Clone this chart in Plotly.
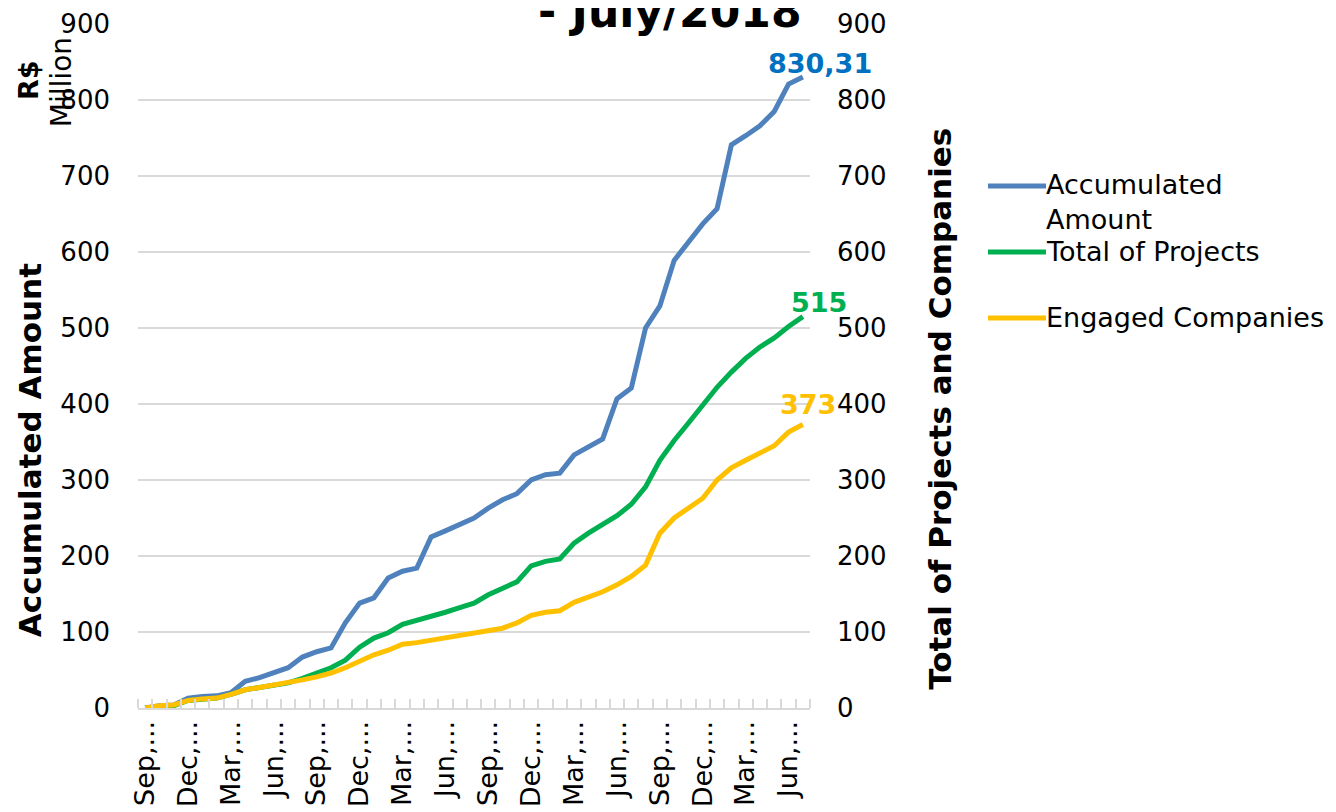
import pandas as pd
import plotly.graph_objects as go

# months Sep/2014 .. Jul/2018
months = pd.date_range("2014-09-01", periods=47, freq="MS")
month_names = [m.strftime("%b, %Y") for m in months]
label_every = 3
tick_labels = [m.split(",")[0] + ",..." for m in month_names[::label_every]]

# R$ million, accumulated
accumulated_amount = [0, 3, 4, 13, 15, 16, 20, 35, 40, 46, 53, 67, 74, 79, 112, 138,
                      145, 171, 180, 184, 225, 233, 242, 250, 263, 274, 282, 300, 307,
                      309, 333, 344, 354, 407, 421, 500, 529, 589, 612, 637, 657, 741,
                      753, 766, 785, 821, 830.31]
total_projects = [0, 2, 3, 10, 12, 13, 18, 24, 27, 30, 33, 39, 46, 53, 63, 80, 92, 99,
                  110, 115, 120, 126, 132, 138, 149, 158, 166, 187, 193, 196, 217, 230,
                  241, 253, 268, 291, 326, 352, 375, 399, 422, 442, 460, 475, 487, 502,
                  515]
engaged_companies = [0, 3, 4, 10, 12, 13, 18, 24, 27, 30, 34, 37, 41, 46, 53, 61, 70,
                     76, 84, 86, 89, 92, 95, 98, 102, 105, 112, 122, 126, 128, 139, 146,
                     153, 162, 173, 188, 230, 250, 263, 276, 300, 316, 326, 336, 345,
                     363, 373]

series_names = ["Accumulated<br>Amount", "Total of Projects", "Engaged Companies"]

FONT = "DejaVu Sans"
BLUE, GREEN, YELLOW = "#4f81bd", "#00b050", "#ffc000"
colors = [BLUE, GREEN, YELLOW]

x = list(range(len(months)))

fig = go.Figure()
fig.add_trace(go.Scatter(x=x, y=accumulated_amount, mode="lines",
                         name=series_names[0], text=month_names,
                         line=dict(color=BLUE, width=5)))
fig.add_trace(go.Scatter(x=x, y=total_projects, mode="lines", yaxis="y2",
                         name=series_names[1], text=month_names,
                         line=dict(color=GREEN, width=5)))
fig.add_trace(go.Scatter(x=x, y=engaged_companies, mode="lines", yaxis="y2",
                         name=series_names[2], text=month_names,
                         line=dict(color=YELLOW, width=5)))

# end-of-line value labels
last = len(x) - 1
fig.add_annotation(x=last, y=accumulated_amount[-1], text="<b>830,31</b>",
                   showarrow=False, xshift=17, yshift=13,
                   font=dict(color="#0070c0", size=27, family=FONT))
fig.add_annotation(x=last, y=total_projects[-1], yref="y2", text="<b>515</b>",
                   showarrow=False, xshift=16, yshift=14,
                   font=dict(color=GREEN, size=27, family=FONT))
fig.add_annotation(x=last, y=engaged_companies[-1], yref="y2", text="<b>373</b>",
                   showarrow=False, xshift=5, yshift=20,
                   font=dict(color=YELLOW, size=27, family=FONT))


def note(text, x, y, size, angle=0, bold=False):
    fig.add_annotation(xref="paper", yref="paper", x=x, y=y, xanchor="center",
                       yanchor="middle", text=f"<b>{text}</b>" if bold else text,
                       textangle=angle, showarrow=False,
                       font=dict(size=size, family=FONT, color="black"))


# titles / units
note("- July/2018", 0.7917, 1.018, 44, bold=True)
note("R$", -0.1637, 0.918, 27, angle=-90, bold=True)
note("Million", -0.1146, 0.915, 28, angle=-90)
note("Accumulated Amount", -0.1607, 0.377, 31, angle=-90, bold=True)
note("Total of Projects and Companies", 1.193, 0.437, 31, angle=-90, bold=True)

# legend drawn by hand (long line keys, wrapped first entry)
leg_x0, leg_x1 = 1.2649, 1.3512
leg_y = [0.7632, 0.6667, 0.5702]
for name, col, ly in zip(series_names, colors, leg_y):
    fig.add_shape(type="line", xref="paper", yref="paper", x0=leg_x0, x1=leg_x1,
                  y0=ly, y1=ly, line=dict(color=col, width=5))
    two_lines = "<br>" in name
    fig.add_annotation(xref="paper", yref="paper", x=leg_x1 - 0.003,
                       y=ly + (0.0275 if two_lines else 0),
                       xanchor="left", yanchor="top" if two_lines else "middle",
                       text=name, align="left", showarrow=False,
                       font=dict(size=27, family=FONT))

# page body has an 8px margin, so the figure is shrunk by that much
fig.update_layout(
    width=1328, height=804,
    margin=dict(l=130, r=526, t=16, b=104),
    plot_bgcolor="white", paper_bgcolor="white",
    font=dict(family=FONT, size=26, color="black"),
    showlegend=False,
    xaxis=dict(range=[-0.5, len(x) - 0.5], tickmode="array", automargin=False,
               tickvals=x[::label_every], ticktext=tick_labels, tickangle=-90,
               ticks="", showgrid=False, zeroline=False,
               showline=True, linecolor="#d9d9d9", linewidth=2,
               tickfont=dict(size=27),
               minor=dict(tick0=-0.5, dtick=1, ticks="inside", ticklen=9,
                          tickcolor="#d9d9d9", tickwidth=1.5, showgrid=False)),
    yaxis=dict(range=[0, 900], dtick=100, showgrid=True, gridcolor="#d9d9d9",
               gridwidth=1.5, zeroline=False, showline=False, ticks="",
               automargin=False, ticklabelstandoff=27, tickfont=dict(size=26)),
    yaxis2=dict(range=[0, 900], dtick=100, overlaying="y", side="right",
                showgrid=False, zeroline=False, showline=False, ticks="",
                automargin=False, ticklabelstandoff=26, tickfont=dict(size=26)),
)

fig.write_html("out.html")
